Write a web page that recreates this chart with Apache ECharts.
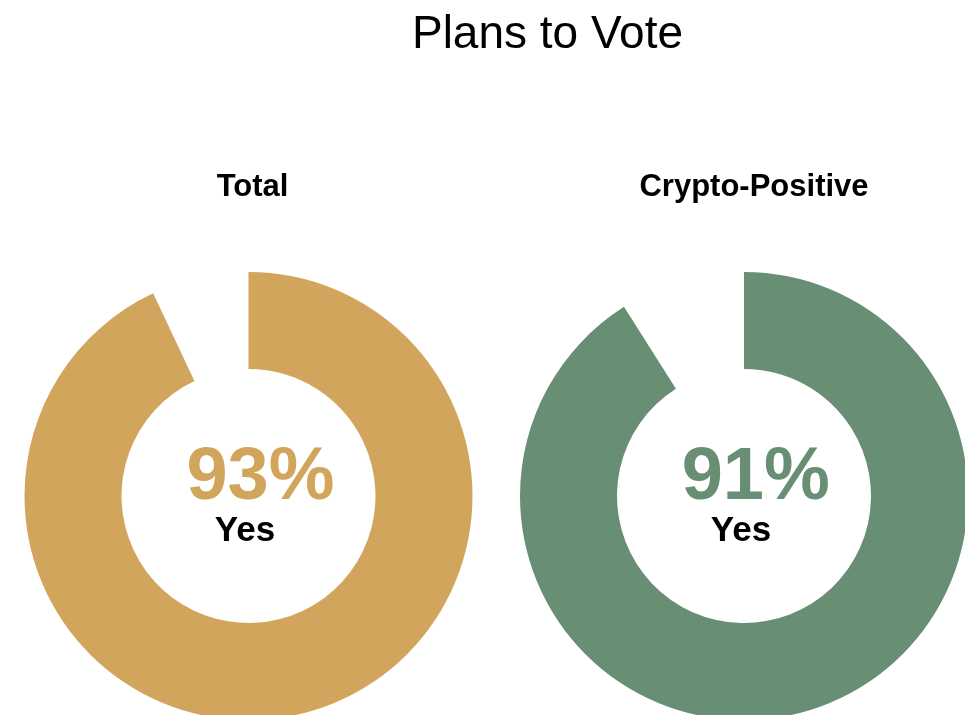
<!DOCTYPE html>
<html>
<head>
<meta charset="utf-8">
<script src="https://cdn.jsdelivr.net/npm/echarts@6/dist/echarts.min.js"></script>
<style>
html,body{margin:0;padding:0;background:#fff;}
#chart{width:965px;height:715px;}
</style>
</head>
<body>
<div id="chart"></div>
<script>
var chartTitle = "Plans to Vote";
var groups = ["Total", "Crypto-Positive"];
var yesValues = [93, 91];
var answerLabel = "Yes";
var colors = ["#D2A55C", "#688F74"];

var FONT = "'Liberation Sans', Arial, sans-serif";
var centers = [[248.5, 496], [744, 496]];
var subX = [252.5, 754];
var pctX = [260.5, 755.7];
var yesX = [245, 741];

var series = groups.map(function (g, i) {
  return {
    type: 'pie',
    name: g,
    radius: [127, 224],
    center: centers[i],
    startAngle: 90,
    clockwise: true,
    silent: true,
    label: { show: false },
    labelLine: { show: false },
    itemStyle: { borderWidth: 0 },
    data: [
      { name: answerLabel, value: yesValues[i], itemStyle: { color: colors[i] } },
      { name: 'No', value: 100 - yesValues[i], itemStyle: { color: 'rgba(0,0,0,0)' } }
    ]
  };
});

var graphics = [{
  type: 'text', x: 547.5, y: 35,
  style: { text: chartTitle, fill: '#000', font: 'normal 46px ' + FONT, align: 'center', verticalAlign: 'middle' }
}];
groups.forEach(function (g, i) {
  graphics.push({
    type: 'text', x: subX[i], y: 187,
    style: { text: g, fill: '#000', font: 'bold 31px ' + FONT, align: 'center', verticalAlign: 'middle' }
  });
  graphics.push({
    type: 'text', x: pctX[i], y: 479, z: 10,
    style: { text: yesValues[i] + '%', fill: colors[i], font: 'bold 74px ' + FONT, align: 'center', verticalAlign: 'middle' }
  });
  graphics.push({
    type: 'text', x: yesX[i], y: 531, z: 10,
    style: { text: answerLabel, fill: '#000', font: 'bold 35px ' + FONT, align: 'center', verticalAlign: 'middle' }
  });
});

var chart = echarts.init(document.getElementById('chart'), null, { renderer: 'canvas' });
chart.setOption({
  animation: false,
  backgroundColor: '#fff',
  series: series,
  graphic: graphics
});
</script>
</body>
</html>
